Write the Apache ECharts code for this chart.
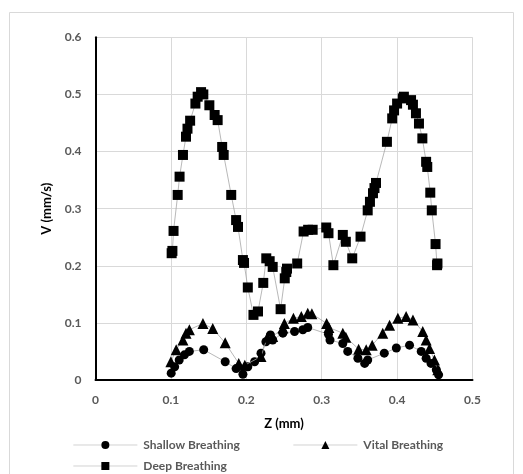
<!DOCTYPE html>
<html>
<head>
<meta charset="utf-8">
<script src="https://cdn.jsdelivr.net/npm/echarts@6/dist/echarts.min.js"></script>
<style>html,body{margin:0;padding:0;background:#fff;}#c{width:523px;height:474px;}</style>
</head>
<body>
<div id="c"></div>
<script>
const xTicks = [0, 0.1, 0.2, 0.3, 0.4, 0.5];
const yTicks = [0, 0.1, 0.2, 0.3, 0.4, 0.5, 0.6];

const shallowZ = [0.1004,0.105,0.111,0.118,0.1245,0.1435,0.172,0.1865,0.1955,0.202,0.211,0.2195,0.226,0.232,0.235,0.2485,0.264,0.275,0.2815,0.309,0.311,0.328,0.3345,0.348,0.357,0.361,0.383,0.399,0.4165,0.432,0.4385,0.445,0.452,0.455];
const shallowV = [0.012,0.023,0.035,0.044,0.050,0.053,0.032,0.020,0.010,0.023,0.032,0.047,0.067,0.079,0.070,0.082,0.085,0.088,0.092,0.080,0.070,0.064,0.050,0.038,0.029,0.035,0.047,0.056,0.061,0.050,0.038,0.029,0.018,0.009];

const vitalZ = [0.100,0.107,0.116,0.120,0.1245,0.1425,0.1555,0.172,0.190,0.198,0.2195,0.228,0.235,0.2485,0.2505,0.2625,0.273,0.2815,0.287,0.3065,0.3095,0.328,0.332,0.349,0.359,0.367,0.381,0.390,0.401,0.412,0.421,0.434,0.4385,0.443,0.4495,0.454];
const vitalV = [0.032,0.053,0.070,0.082,0.088,0.099,0.090,0.065,0.029,0.026,0.041,0.075,0.076,0.091,0.099,0.108,0.111,0.117,0.116,0.099,0.092,0.082,0.075,0.054,0.053,0.061,0.082,0.096,0.108,0.111,0.105,0.085,0.070,0.055,0.035,0.018];

const deepZ = [0.101,0.102,0.1035,0.109,0.1115,0.116,0.120,0.122,0.1255,0.1325,0.1355,0.140,0.143,0.151,0.158,0.162,0.168,0.170,0.180,0.1865,0.189,0.1955,0.197,0.202,0.2095,0.2155,0.2225,0.2265,0.231,0.235,0.2455,0.251,0.253,0.254,0.2675,0.276,0.282,0.288,0.306,0.309,0.3155,0.328,0.332,0.3405,0.3515,0.361,0.364,0.368,0.370,0.372,0.3865,0.3935,0.396,0.400,0.4075,0.409,0.4185,0.421,0.425,0.429,0.4335,0.4385,0.440,0.444,0.446,0.451,0.453,0.4535];
const deepV = [0.222,0.226,0.261,0.324,0.356,0.394,0.426,0.440,0.454,0.484,0.496,0.504,0.500,0.481,0.464,0.455,0.408,0.394,0.324,0.280,0.268,0.210,0.205,0.162,0.114,0.120,0.170,0.213,0.208,0.198,0.124,0.178,0.189,0.195,0.204,0.260,0.263,0.263,0.267,0.257,0.201,0.254,0.242,0.213,0.251,0.297,0.312,0.327,0.336,0.345,0.417,0.458,0.472,0.484,0.493,0.496,0.490,0.482,0.467,0.449,0.423,0.382,0.373,0.328,0.297,0.238,0.201,0.204];

const names = ['Shallow Breathing', 'Vital Breathing', 'Deep Breathing'];

function pairs(xs, ys) { return xs.map((x, i) => [x, ys[i]]); }

const FONT = 'Lato, "Open Sans", sans-serif';
const lineStyle = { color: '#a6a6a6', width: 0.8 };
const legendText = { color: '#595959', fontFamily: FONT, fontSize: 12, fontWeight: 'bold', padding: [0, 0, 0, 1] };
const legendBase = { itemWidth: 64, itemHeight: 10, itemGap: 0, textStyle: legendText, selectedMode: false,
  lineStyle: { color: '#bfbfbf', width: 0.7 } };

const chart = echarts.init(document.getElementById('c'), null, { renderer: 'canvas' });
chart.setOption({
  animation: false,
  backgroundColor: '#fff',
  graphic: [{
    type: 'rect', shape: { x: 9.5, y: 12.5, width: 504, height: 480 },
    style: { fill: 'none', stroke: '#d9d9d9', lineWidth: 1 }, silent: true, z: -10
  }],
  grid: { left: 95.5, right: 50.5, top: 37.3, bottom: 94, containLabel: false },
  xAxis: {
    type: 'value', min: xTicks[0], max: xTicks[xTicks.length - 1], interval: 0.1,
    name: 'Z (mm)', nameLocation: 'middle', nameGap: 37,
    nameTextStyle: { color: '#000', fontFamily: FONT, fontSize: 13, fontWeight: 'bold' },
    axisLine: { show: true, lineStyle: { color: '#000', width: 2 } },
    axisTick: { show: false },
    axisLabel: { color: '#595959', fontFamily: FONT, fontSize: 12, fontWeight: 'bold', margin: 14,
      formatter: v => String(+v.toFixed(1)) },
    splitLine: { show: true, lineStyle: { color: '#d9d9d9', width: 1 } }
  },
  yAxis: {
    type: 'value', min: yTicks[0], max: yTicks[yTicks.length - 1], interval: 0.1,
    name: 'V (mm/s)', nameLocation: 'middle', nameGap: 42, nameRotate: 90,
    nameTextStyle: { color: '#000', fontFamily: FONT, fontSize: 13, fontWeight: 'bold' },
    axisLine: { show: true, onZero: false, lineStyle: { color: '#000', width: 2 } },
    axisTick: { show: false },
    axisLabel: { color: '#595959', fontFamily: FONT, fontSize: 12, fontWeight: 'bold', margin: 14,
      formatter: v => String(+v.toFixed(1)) },
    splitLine: { show: true, lineStyle: { color: '#d9d9d9', width: 1 } }
  },
  legend: [
    Object.assign({ data: [names[0]], left: 68, top: 434 }, legendBase),
    Object.assign({ data: [names[1]], left: 288, top: 434 }, legendBase),
    Object.assign({ data: [names[2]], left: 68, top: 455 }, legendBase)
  ],
  series: [
    { name: names[0], type: 'line', data: pairs(shallowZ, shallowV), symbol: 'circle', symbolSize: 9,
      showAllSymbol: true, itemStyle: { color: '#000', borderWidth: 0 }, lineStyle: lineStyle, z: 3 },
    { name: names[1], type: 'line', data: pairs(vitalZ, vitalV), symbol: 'triangle', symbolSize: 11,
      showAllSymbol: true, itemStyle: { color: '#000', borderWidth: 0 }, lineStyle: lineStyle, z: 4 },
    { name: names[2], type: 'line', data: pairs(deepZ, deepV), symbol: 'rect', symbolSize: 10,
      showAllSymbol: true, itemStyle: { color: '#000', borderWidth: 0 }, lineStyle: lineStyle, z: 5 }
  ]
});
</script>
</body>
</html>
